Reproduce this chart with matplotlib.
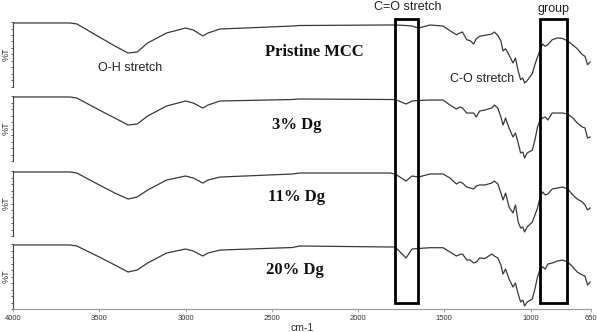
import numpy as np
import matplotlib
matplotlib.use('Agg')
import matplotlib.pyplot as plt
from matplotlib.patches import Rectangle
from matplotlib.transforms import blended_transform_factory

# wavenumber grid (cm-1)
wn = [4000, 3670, 3630, 3500, 3410, 3333, 3280, 3220, 3110, 3000, 2955, 2900, 2870, 2800,
      2380, 2340, 1815, 1785, 1722, 1687, 1650, 1583, 1508, 1467, 1430, 1410, 1395, 1370,
      1350, 1330, 1315, 1295, 1265, 1225, 1210, 1190, 1172, 1160, 1145, 1125, 1102, 1088,
      1072, 1058, 1045, 1035, 1020, 990, 975, 960, 945, 930, 915, 900, 875, 845, 815, 785,
      755, 730, 700, 685, 670, 655]

# %T for each sample
t_pristine = [98.5, 98.5, 97.0, 76.9, 63.1, 52.3, 53.8, 67.7, 83.1, 90.7, 87.7, 78.5, 83.1, 89.2,
              93.8, 94.6, 95.4, 95.4, 94.6, 93.8, 90.7, 95.4, 93.8, 86.6, 80.4, 83.1, 84.6, 72.7,
              71.2, 66.1, 74.3, 78.0, 79.5, 81.5, 84.6, 79.5, 70.7, 55.4, 58.9, 49.2, 36.9, 44.6,
              24.6, 11.2, 13.8, 6.2, 9.7, 20.8, 34.6, 46.1, 56.9, 66.1, 62.6, 65.1, 72.7, 75.4,
              74.7, 70.7, 64.6, 58.9, 49.7, 47.2, 34.3, 38.5]
t_3 = [98.5, 98.5, 96.9, 78.4, 66.1, 55.4, 56.9, 69.2, 84.6, 92.3, 89.2, 81.5, 86.1, 92.3,
       94.6, 95.4, 94.6, 94.6, 87.7, 92.3, 93.1, 93.8, 93.8, 86.1, 80.0, 83.1, 81.5, 73.8,
       73.8, 73.8, 67.7, 76.9, 78.4, 81.5, 86.1, 81.5, 67.7, 55.4, 66.1, 50.8, 36.9, 43.1,
       27.7, 12.3, 13.8, 4.6, 12.3, 16.9, 32.3, 52.3, 63.1, 66.1, 67.7, 63.1, 73.8, 73.8,
       73.8, 72.3, 66.1, 58.5, 52.3, 50.8, 35.4, 36.9]
t_11 = [98.5, 98.5, 96.9, 78.5, 66.1, 56.9, 60.0, 70.7, 86.1, 92.3, 89.2, 81.5, 86.1, 90.7,
        95.4, 96.9, 96.9, 95.4, 84.6, 92.3, 90.7, 95.4, 95.4, 89.2, 80.0, 83.1, 81.5, 75.4,
        73.8, 72.3, 76.9, 78.5, 78.5, 81.5, 84.6, 80.0, 66.1, 55.4, 66.1, 44.6, 35.4, 47.7,
        21.5, 12.3, 13.8, 6.2, 13.8, 21.5, 32.3, 43.1, 60.0, 67.7, 63.1, 64.6, 72.3, 73.8,
        75.4, 72.3, 63.1, 56.9, 52.3, 47.7, 40.0, 43.1]
t_20 = [98.5, 98.5, 96.9, 80.0, 67.7, 56.9, 60.0, 70.7, 86.1, 92.3, 89.2, 81.5, 86.1, 90.7,
        94.6, 96.9, 95.4, 95.4, 78.5, 92.3, 93.1, 94.3, 94.3, 87.7, 81.5, 83.8, 84.6, 75.4,
        75.4, 70.7, 72.3, 78.5, 77.7, 84.6, 81.5, 78.5, 67.7, 53.8, 61.5, 46.1, 33.8, 40.0,
        23.1, 10.8, 13.8, 4.6, 10.8, 15.4, 30.8, 49.2, 61.5, 64.6, 61.5, 69.2, 70.7, 73.8,
        75.4, 72.3, 64.6, 56.9, 52.3, 50.8, 36.9, 41.5]

samples = ['Pristine MCC', '3% Dg', '11% Dg', '20% Dg']
spectra = [t_pristine, t_3, t_11, t_20]
xticks = [4000, 3500, 3000, 2500, 2000, 1500, 1000, 650]
boxes = [(1786, 1655), (946, 789)]  # C=O band, group band

plt.rcParams['font.family'] = ['Liberation Sans', 'DejaVu Sans']

fig = plt.figure(figsize=(5.97, 3.32), dpi=100)
W, H = 597.0, 332.0

tops = [22, 96, 171, 244]
ph = 65
axes = []
for i, (name, t) in enumerate(zip(samples, spectra)):
    top = tops[i]
    ax = fig.add_axes([13 / W, 1 - (top + ph) / H, 578 / W, ph / H])
    ax.plot(wn, t, color='#3a3a3a', lw=0.9)
    ax.set_xlim(4000, 650)
    ax.set_ylim(0, 100)
    ax.patch.set_alpha(0)
    for s in ['top', 'right']:
        ax.spines[s].set_visible(False)
    ax.spines['left'].set_color('#444444')
    ax.spines['left'].set_linewidth(0.8)
    ax.set_yticks(np.arange(0, 101, 10))
    ax.tick_params(axis='y', length=1.8, width=0.6, color='#444444', labelleft=False)
    ax.set_ylabel('%T', fontsize=6.5, color='#333333')
    ax.yaxis.set_label_coords(-2.0 / 578, 0.5)
    if i < 3:
        ax.spines['bottom'].set_visible(False)
        ax.set_xticks([])
    else:
        ax.spines['bottom'].set_color('#999999')
        ax.spines['bottom'].set_linewidth(0.8)
        ax.set_xticks(xticks)
        ax.tick_params(axis='x', length=2.5, width=0.6, color='#999999',
                       labelsize=5.5, pad=1.5, labelcolor='#333333')
        ax.set_xlabel('cm-1', fontsize=7.5, labelpad=1, color='#333333')
    axes.append(ax)

# sample names
name_pos = [(314, 52), (297, 125), (296, 197), (295, 270)]
for name, (px, py) in zip(samples, name_pos):
    fig.text(px / W, 1 - py / H, name, family='Liberation Serif', weight='bold',
             fontsize=12, ha='center', va='center', color='#111111')

# band boxes
tr = blended_transform_factory(axes[3].transData, fig.transFigure)
for x0, x1 in boxes:
    r = Rectangle((x0, 1 - 303 / H), x1 - x0, (303 - 19) / H, transform=tr,
                  fill=False, ec='black', lw=2.0, clip_on=False)
    fig.add_artist(r)

# annotations
fig.text(408 / W, 1 - 1 / H, 'C=O stretch', fontsize=9, ha='center', va='top', color='#222222')
fig.text(554 / W, 1 - 9 / H, 'group', fontsize=9, ha='center', va='center', color='#222222')
fig.text(130 / W, 1 - 68 / H, 'O-H stretch', fontsize=9, ha='center', va='center', color='#222222')
fig.text(482 / W, 1 - 79 / H, 'C-O stretch', fontsize=9, ha='center', va='center', color='#222222')

fig.savefig('out.png', dpi=100)
